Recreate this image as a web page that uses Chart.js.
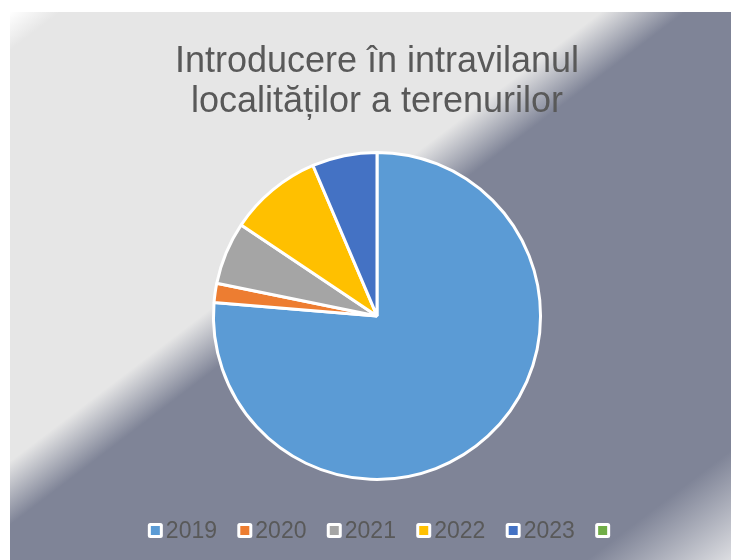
<!DOCTYPE html>
<html>
<head>
<meta charset="utf-8">
<script src="https://cdn.jsdelivr.net/npm/chart.js@4"></script>
<style>
  html, body { margin: 0; padding: 0; background: #fff; }
  #wrap { position: absolute; left: 10px; top: 12px; width: 721px; height: 548px; }
</style>
</head>
<body>
<div id="wrap"><canvas id="pie"></canvas></div>
<script>
const years = ['2019', '2020', '2021', '2022', '2023', ''];
const values = [76.3, 1.9, 6.2, 9.2, 6.4, 0];
const colors = ['#5b9bd5', '#ed7d31', '#a5a5a5', '#ffc000', '#4472c4', '#70ad47'];
const titleLines = ['Introducere în intravilanul', 'localităților a terenurilor'];

const FONT = "'Liberation Sans', Arial, sans-serif";
const TEXT = '#595959';

// office-like diagonal gradient behind everything
const bgPlugin = {
  id: 'bg',
  beforeDraw(chart) {
    const { ctx, width: w, height: h } = chart;
    const k = 2 / (1 / (w * w) + 1 / (h * h));
    const g = ctx.createLinearGradient(0, 0, k / w, k / h);
    g.addColorStop(0, '#ffffff');
    g.addColorStop(0.035, '#e6e6e6');
    g.addColorStop(0.41, '#e6e6e6');
    g.addColorStop(0.468, '#7f8497');
    g.addColorStop(0.9, '#7f8497');
    g.addColorStop(1, '#dcdde1');
    ctx.save();
    ctx.fillStyle = g;
    ctx.fillRect(0, 0, w, h);
    ctx.restore();
  }
};

// legend like the spreadsheet one: small framed square + tight text
const legendPlugin = {
  id: 'sheetLegend',
  afterDraw(chart) {
    const { ctx, chartArea } = chart;
    const labels = chart.data.labels;
    const bg = chart.data.datasets[0].backgroundColor;
    const box = 15, gap = 3, after = 20.3, y = 518.5;
    ctx.save();
    ctx.font = '23px ' + FONT;
    const widths = labels.map(l => box + (l ? gap + ctx.measureText(l).width + after : 0));
    const total = widths.reduce((a, b) => a + b, 0);
    let x = (chartArea.left + chartArea.right) / 2 + 2 - total / 2;
    labels.forEach((l, i) => {
      ctx.fillStyle = '#ffffff';
      ctx.beginPath();
      ctx.roundRect(x, y - box / 2, box, box, 2.5);
      ctx.fill();
      ctx.fillStyle = bg[i];
      ctx.fillRect(x + 3, y - box / 2 + 3, box - 6, box - 6);
      if (l) {
        ctx.fillStyle = TEXT;
        ctx.textBaseline = 'middle';
        ctx.textAlign = 'left';
        ctx.fillText(l, x + box + gap, y + 1);
      }
      x += widths[i];
    });
    ctx.restore();
  }
};

new Chart(document.getElementById('pie').getContext('2d'), {
  type: 'pie',
  data: {
    labels: years,
    datasets: [{
      data: values,
      backgroundColor: colors,
      borderColor: '#ffffff',
      borderWidth: 3,
    }]
  },
  options: {
    responsive: true,
    maintainAspectRatio: false,
    animation: false,
    layout: { padding: { left: 13, right: 0, top: 0, bottom: 79 } },
    plugins: {
      legend: { display: false },
      tooltip: { enabled: false },
      title: {
        display: true,
        text: titleLines,
        color: TEXT,
        font: { family: FONT, size: 36, weight: 'normal', lineHeight: 1.11 },
        padding: { top: 30, bottom: 29 },
      }
    }
  },
  plugins: [bgPlugin, legendPlugin]
});
</script>
</body>
</html>
